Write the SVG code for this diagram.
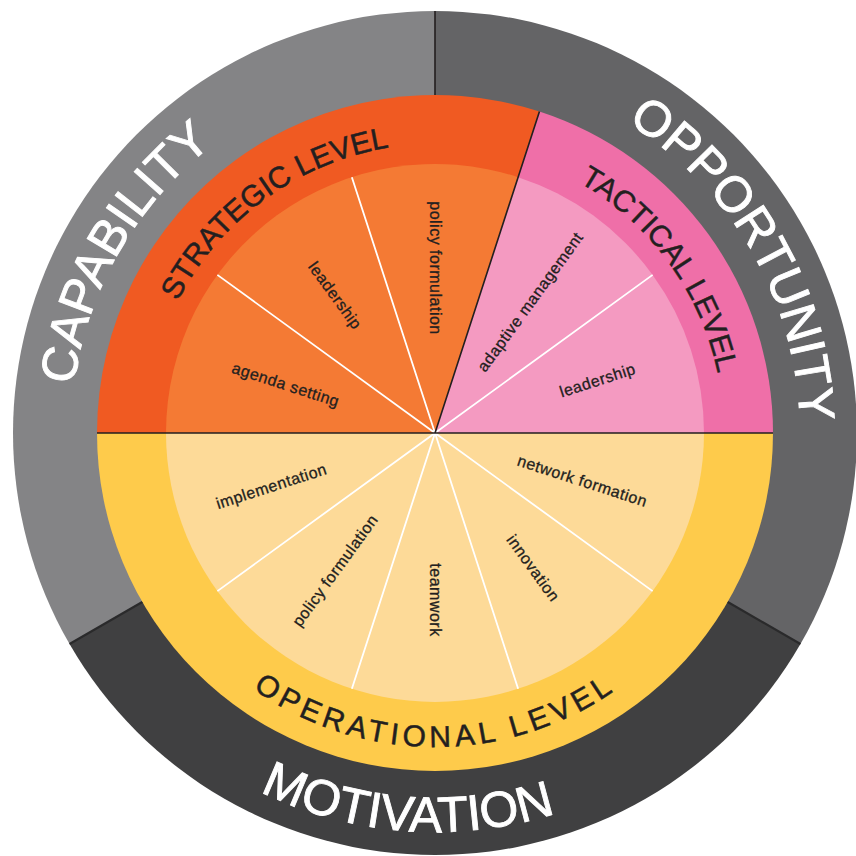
<svg xmlns="http://www.w3.org/2000/svg" width="856" height="856" viewBox="0 0 856 856">
  <style>
    .ring { font-family: "Liberation Sans", Arial, sans-serif; font-size: 50px; fill: #ffffff; stroke: #ffffff; stroke-width: 0.9px; }
    .level { font-family: "Liberation Sans", Arial, sans-serif; font-size: 30px; fill: #231f20; stroke: #231f20; stroke-width: 0.5px; }
    .item { font-family: "Liberation Sans", Arial, sans-serif; font-size: 16px; fill: #231f20; stroke: #231f20; stroke-width: 0.3px; letter-spacing: 0.5px; text-anchor: middle; dominant-baseline: central; }
    .div-white { stroke: #ffffff; stroke-width: 1.8; fill: none; }
    .div-dark { stroke: #231f20; stroke-width: 1.6; fill: none; }
    .div-shadow { stroke: #2a2a2b; stroke-width: 2.2; fill: none; }
  </style>
  <defs>
    <!-- baselines for the curved labels, centre (435,433) -->
    <path id="arc-capability" d="M119.76,615 A364,364 0 0 1 435,69"/>
    <path id="arc-opportunity" d="M435,68 A365,365 0 0 1 751.1,615.5"/>
    <path id="arc-motivation" d="M89.46,632.5 A399,399 0 0 0 780.54,632.5"/>
    <path id="arc-strategic" d="M146,433 A289,289 0 0 1 524.31,158.14"/>
    <path id="arc-tactical" d="M524.31,158.14 A289,289 0 0 1 724,433"/>
    <path id="arc-operational" d="M121,433 A314,314 0 0 0 749,433"/>
  </defs>

  <rect width="856" height="856" fill="#ffffff"/>

  <!-- outer ring: three thirds -->
  <g id="capability">
    <path d="M435,433 L435,11 A422,422 0 0 0 69.54,644 Z" fill="#848486"/>
    <text class="ring"><textPath href="#arc-capability" startOffset="50%" text-anchor="middle">CAPABILITY</textPath></text>
  </g>
  <g id="opportunity">
    <path d="M435,433 L435,11 A422,422 0 0 1 800.46,644 Z" fill="#646466"/>
    <text class="ring"><textPath href="#arc-opportunity" startOffset="50%" text-anchor="middle">OPPORTUNITY</textPath></text>
  </g>
  <g id="motivation">
    <path d="M435,433 L69.54,644 A422,422 0 0 0 800.46,644 Z" fill="#404041"/>
    <text class="ring"><textPath href="#arc-motivation" startOffset="46.5%" text-anchor="middle">MOTIVATION</textPath></text>
  </g>

  <!-- levels -->
  <g id="strategic-level">
    <path d="M435,433 L539.45,111.54 A338,338 0 0 0 97,433 Z" fill="#f05a22"/>
    <path d="M435,433 L518.13,177.16 A269,269 0 0 0 166,433 Z" fill="#f47a34"/>
    <text class="level"><textPath href="#arc-strategic" startOffset="50%" text-anchor="middle">STRATEGIC LEVEL</textPath></text>
  </g>
  <g id="tactical-level">
    <path d="M435,433 L773,433 A338,338 0 0 0 539.45,111.54 Z" fill="#ef6fa8"/>
    <path d="M435,433 L704,433 A269,269 0 0 0 518.13,177.16 Z" fill="#f49ac1"/>
    <text class="level"><textPath href="#arc-tactical" startOffset="50%" text-anchor="middle">TACTICAL LEVEL</textPath></text>
  </g>
  <g id="operational-level">
    <path d="M97,433 A338,338 0 0 0 773,433 Z" fill="#fecb4b"/>
    <path d="M166,433 A269,269 0 0 0 704,433 Z" fill="#fdda98"/>
    <text class="level" letter-spacing="4.5"><textPath href="#arc-operational" startOffset="50%" text-anchor="middle">OPERATIONAL LEVEL</textPath></text>
  </g>

  <!-- dividing lines -->
  <g id="dividers">
    <path class="div-white" d="M435,433 L652.63,274.88 M435,433 L351.87,177.16 M435,433 L217.37,274.88 M435,433 L217.37,591.12 M435,433 L351.87,688.84 M435,433 L518.13,688.84 M435,433 L652.63,591.12"/>
    <path class="div-dark" d="M97,433 H773 M435,433 L539.45,111.54 M435,95 V11"/>
    <path class="div-shadow" d="M142.28,602 L69.54,644 M727.72,602 L800.46,644"/>
  </g>

  <!-- strategic items -->
  <g id="s-agenda-setting"><text class="item" transform="translate(285.7,384.5) rotate(18)">agenda setting</text></g>
  <g id="s-leadership"><text class="item" transform="translate(335.1,295.5) rotate(54)">leadership</text></g>
  <g id="s-policy-formulation"><text class="item" transform="translate(435,268) rotate(90)">policy formulation</text></g>

  <!-- tactical items -->
  <g id="t-adaptive-management"><text class="item" transform="translate(530.2,301.9) rotate(-54)">adaptive management</text></g>
  <g id="t-leadership"><text class="item" transform="translate(597.6,380.2) rotate(-18)">leadership</text></g>

  <!-- operational items -->
  <g id="o-implementation"><text class="item" transform="translate(271.4,486.2) rotate(-18)">implementation</text></g>
  <g id="o-policy-formulation"><text class="item" transform="translate(335.1,570.5) rotate(-54)">policy formulation</text></g>
  <g id="o-teamwork"><text class="item" transform="translate(435,600) rotate(90)">teamwork</text></g>
  <g id="o-innovation"><text class="item" transform="translate(533.2,568.1) rotate(54)">innovation</text></g>
  <g id="o-network-formation"><text class="item" transform="translate(582.4,480.9) rotate(18)">network formation</text></g>
</svg>
